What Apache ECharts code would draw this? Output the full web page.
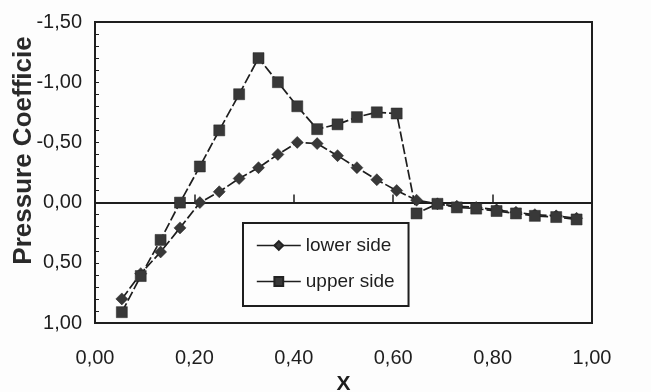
<!DOCTYPE html>
<html>
<head>
<meta charset="utf-8">
<script src="https://cdn.jsdelivr.net/npm/echarts@6/dist/echarts.min.js"></script>
<style>
html,body{margin:0;padding:0;background:#fdfdfd;}
#c{width:651px;height:392px;}
</style>
</head>
<body>
<div id="c"></div>
<script>
// x positions (chord fraction)
const xValues = [0.054, 0.092, 0.132, 0.171, 0.211, 0.250, 0.290, 0.329, 0.368, 0.407, 0.447, 0.488,
                 0.527, 0.567, 0.607, 0.647, 0.689, 0.728, 0.767, 0.808, 0.847, 0.885, 0.928, 0.969];
// pressure coefficient, lower side
const lowerSide = [0.80, 0.59, 0.41, 0.21, 0.00, -0.09, -0.20, -0.29, -0.40, -0.50, -0.49, -0.39,
                   -0.29, -0.19, -0.10, -0.02, 0.01, 0.03, 0.04, 0.06, 0.08, 0.10, 0.11, 0.13];
// pressure coefficient, upper side
const upperSide = [0.91, 0.61, 0.31, 0.00, -0.30, -0.60, -0.90, -1.20, -1.00, -0.80, -0.61, -0.65,
                   -0.71, -0.75, -0.74, 0.09, 0.01, 0.04, 0.05, 0.07, 0.09, 0.11, 0.12, 0.14];
const seriesNames = ['lower side', 'upper side'];
const xTicks = [0, 0.2, 0.4, 0.6, 0.8, 1.0];
const yTicks = [-1.5, -1.0, -0.5, 0, 0.5, 1.0];

const fmt = v => (Math.abs(v) < 1e-9 ? 0 : v).toFixed(2).replace('.', ',');
const sans = "'Liberation Sans', Arial, sans-serif";
const ink = '#1e1e1e';

const chart = echarts.init(document.getElementById('c'), null, {renderer: 'canvas'});
chart.setOption({
  backgroundColor: '#fdfdfd',
  animation: false,
  grid: {left: 95, right: 59, top: 22, bottom: 69, containLabel: false, outerBoundsMode: 'none',
         show: true, borderColor: ink, borderWidth: 2, backgroundColor: 'transparent'},
  legend: {
    data: seriesNames,
    orient: 'vertical',
    left: 243, top: 223,
    itemWidth: 44, itemHeight: 11, itemGap: 17,
    padding: [13, 14, 15, 13],
    borderColor: ink, borderWidth: 2,
    backgroundColor: '#fdfdfd',
    lineStyle: {type: 'solid', width: 1.6},
    textStyle: {fontFamily: sans, fontSize: 19, color: ink}
  },
  xAxis: [{
    type: 'value', min: xTicks[0], max: xTicks[xTicks.length - 1], interval: 0.2,
    position: 'bottom',
    axisLine: {show: false, onZero: false},
    axisTick: {show: false},
    splitLine: {show: false},
    axisLabel: {formatter: fmt, fontFamily: sans, fontSize: 20, color: ink, margin: 25},
    name: 'X', nameLocation: 'middle', nameGap: 51, nameMoveOverlap: false,
    nameTextStyle: {fontFamily: sans, fontWeight: 'bold', fontSize: 21, color: ink}
  }, {
    type: 'value', min: 0, max: 1, interval: 0.2,
    position: 'bottom',
    axisLine: {show: true, onZero: true, lineStyle: {color: ink, width: 2}},
    axisTick: {show: true, inside: true, length: 8, lineStyle: {color: ink, width: 1.5}},
    axisLabel: {show: false},
    splitLine: {show: false}
  }],
  yAxis: {
    type: 'value', inverse: true, min: yTicks[0], max: yTicks[yTicks.length - 1], interval: 0.5,
    axisLine: {show: true, lineStyle: {color: ink, width: 2}},
    axisTick: {show: true, inside: true, length: 4, lineStyle: {color: ink}},
    minorTick: {show: true, splitNumber: 5, length: 4, lineStyle: {color: ink}},
    splitLine: {show: false},
    axisLabel: {formatter: fmt, fontFamily: sans, fontSize: 20, color: ink, margin: 13},
    name: 'Pressure Coefficie', nameLocation: 'middle', nameGap: 58, nameMoveOverlap: false,
    nameTextStyle: {fontFamily: sans, fontWeight: 'bold', fontSize: 26, color: '#2a2a2a', padding: [0, 0, 0, 44]}
  },
  series: [{
    name: seriesNames[0], type: 'line', xAxisIndex: 0,
    data: xValues.map((x, i) => [x, lowerSide[i]]),
    symbol: 'diamond', symbolSize: 12,
    itemStyle: {color: '#383838', borderColor: '#222', borderWidth: 0.5},
    lineStyle: {color: '#1e1e1e', width: 1.7, type: [10, 3]}
  }, {
    name: seriesNames[1], type: 'line', xAxisIndex: 0,
    data: xValues.map((x, i) => [x, upperSide[i]]),
    symbol: 'rect', symbolSize: 11,
    itemStyle: {color: '#383838', borderColor: '#222', borderWidth: 0.5},
    lineStyle: {color: '#1e1e1e', width: 1.7, type: [10, 3]}
  }]
});
</script>
</body>
</html>
